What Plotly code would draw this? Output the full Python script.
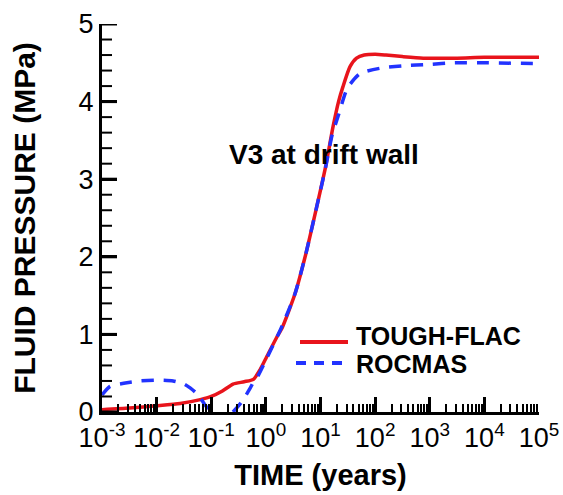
import plotly.graph_objects as go

# ---- data ----
# TOUGH-FLAC (time in years, fluid pressure in MPa)
tf_time = [1.0e-3, 3.2e-3, 1.0e-2, 2.7e-2, 6.3e-2, 1.0e-1, 1.6e-1, 2.5e-1, 4.0e-1, 5.9e-1,
           7.9e-1, 1.0, 1.6, 2.0, 3.4, 5.4, 8.5, 12.3, 17.0, 21.4, 25.7, 34.7, 45.7,
           63.1, 100.0, 158.0, 316.0, 760.0, 3160.0, 1.0e4, 1.0e5]
tf_press = [0.03, 0.05, 0.08, 0.11, 0.16, 0.20, 0.27, 0.36, 0.39, 0.42,
            0.55, 0.69, 0.97, 1.09, 1.52, 2.04, 2.64, 3.15, 3.68, 4.00, 4.19, 4.45, 4.56,
            4.60, 4.61, 4.60, 4.58, 4.56, 4.56, 4.57, 4.57]

# ROCMAS
ro_time = [1.0e-3, 1.4e-3, 2.5e-3, 5.0e-3, 1.0e-2, 2.0e-2, 3.2e-2, 4.1e-2, 5.2e-2, 6.3e-2,
           7.9e-2, 1.0e-1, 1.4e-1, 2.0e-1, 2.5e-1, 3.6e-1, 5.1e-1, 6.3e-1, 7.1e-1, 1.0,
           1.9, 3.4, 5.4, 8.5, 12.3, 16.2, 21.4, 30.9, 52.5, 123.0, 316.0, 1000.0,
           2690.0, 1.0e4, 1.0e5]
ro_press = [0.22, 0.33, 0.37, 0.40, 0.41, 0.40, 0.36, 0.31, 0.25, 0.18,
            0.08, -0.02, -0.10, -0.07, 0.00, 0.13, 0.30, 0.42, 0.46, 0.67,
            1.08, 1.52, 2.04, 2.64, 3.14, 3.56, 3.83, 4.17, 4.36, 4.43, 4.46, 4.48,
            4.50, 4.50, 4.49]

x_tickvals = [1e-3, 1e-2, 1e-1, 1e0, 1e1, 1e2, 1e3, 1e4, 1e5]
x_ticktext = ["10<sup>-3</sup>", "10<sup>-2</sup>", "10<sup>-1</sup>", "10<sup>0</sup>",
              "10<sup>1</sup>", "10<sup>2</sup>", "10<sup>3</sup>", "10<sup>4</sup>",
              "10<sup>5</sup>"]
y_major_ticks = [0, 1, 2, 3, 4, 5]
y_minor_ticks = [0.2, 0.4, 0.6, 0.8, 1.2, 1.4, 1.6, 1.8, 2.2, 2.4, 2.6, 2.8,
                 3.2, 3.4, 3.6, 3.8, 4.2, 4.4, 4.6, 4.8]

series_names = ["TOUGH-FLAC", "ROCMAS"]
annotation_text = "V3 at drift wall"

FONT = "Liberation Sans, Arial, sans-serif"
RED = "#e8141c"
BLUE = "#2233ff"

fig = go.Figure()
fig.add_trace(go.Scatter(x=tf_time, y=tf_press, mode="lines", name=series_names[0],
                         line=dict(color=RED, width=3.5, shape="spline", smoothing=0.6),
                         showlegend=False))
fig.add_trace(go.Scatter(x=ro_time, y=ro_press, mode="lines", name=series_names[1],
                         line=dict(color=BLUE, width=3.5, dash="12px,10px",
                                   shape="spline", smoothing=0.6),
                         showlegend=False))

L, R, T, B = 102, 24, 24, 83
W, H = 563, 495
pw, ph = W - L - R, H - T - B


def px(xp):
    return (xp - L) / pw


def py(yp):
    return (H - B - yp) / ph


# inward tick marks on the pressure axis (placed through the y scale)
for v in y_major_ticks:
    fig.add_shape(type="line", xref="paper", yref="y", x0=0, x1=15 / pw, y0=v, y1=v,
                  line=dict(color="black", width=3))
for v in y_minor_ticks:
    fig.add_shape(type="line", xref="paper", yref="y", x0=0, x1=10 / pw, y0=v, y1=v,
                  line=dict(color="black", width=2))

# manual legend (line samples + labels)
fig.add_shape(type="line", xref="paper", yref="paper", x0=px(300), x1=px(348),
              y0=py(342), y1=py(342), line=dict(color=RED, width=4))
fig.add_shape(type="line", xref="paper", yref="paper", x0=px(296), x1=px(350),
              y0=py(363), y1=py(363), line=dict(color=BLUE, width=4, dash="10px,8px"))
fig.add_annotation(xref="paper", yref="paper", x=px(354), y=py(336), xanchor="left",
                   yanchor="middle", showarrow=False, text=series_names[0],
                   font=dict(family=FONT, size=25, color="black", weight="bold"))
fig.add_annotation(xref="paper", yref="paper", x=px(354), y=py(364), xanchor="left",
                   yanchor="middle", showarrow=False, text=series_names[1],
                   font=dict(family=FONT, size=25, color="black", weight="bold"))
fig.add_annotation(xref="paper", yref="paper", x=px(227), y=py(154), xanchor="left",
                   yanchor="middle", showarrow=False, text=annotation_text,
                   font=dict(family=FONT, size=28, color="black", weight="bold"))

fig.update_layout(
    width=W, height=H,
    margin=dict(l=L, r=R, t=T, b=B),
    paper_bgcolor="white", plot_bgcolor="white",
    font=dict(family=FONT, color="black"),
    showlegend=False,
    xaxis=dict(
        type="log", range=[-3, 5], automargin=False,
        tickmode="array", tickvals=x_tickvals, ticktext=x_ticktext,
        ticks="inside", ticklen=15, tickwidth=3, tickcolor="black",
        minor=dict(ticks="inside", ticklen=8, tickwidth=2, tickcolor="black",
                   dtick="D1", showgrid=False),
        showline=True, linewidth=3, linecolor="black",
        showgrid=False, zeroline=False,
        tickfont=dict(family=FONT, size=27, color="black"),
        title=dict(text="TIME (years)", standoff=13,
                   font=dict(family=FONT, size=29, color="black", weight="bold")),
    ),
    yaxis=dict(
        range=[0, 5], automargin=False,
        tickmode="array", tickvals=y_major_ticks,
        ticks="inside", ticklen=15, tickwidth=3, tickcolor="black",
        showline=True, linewidth=3, linecolor="black",
        showgrid=False, zeroline=False,
        tickfont=dict(family=FONT, size=27, color="black"),
        title=dict(text="FLUID PRESSURE (MPa)", standoff=35,
                   font=dict(family=FONT, size=30, color="black", weight="bold")),
    ),
)

fig.write_html("out.html", post_script="document.body.style.margin='0';",
               config={"displayModeBar": False})
